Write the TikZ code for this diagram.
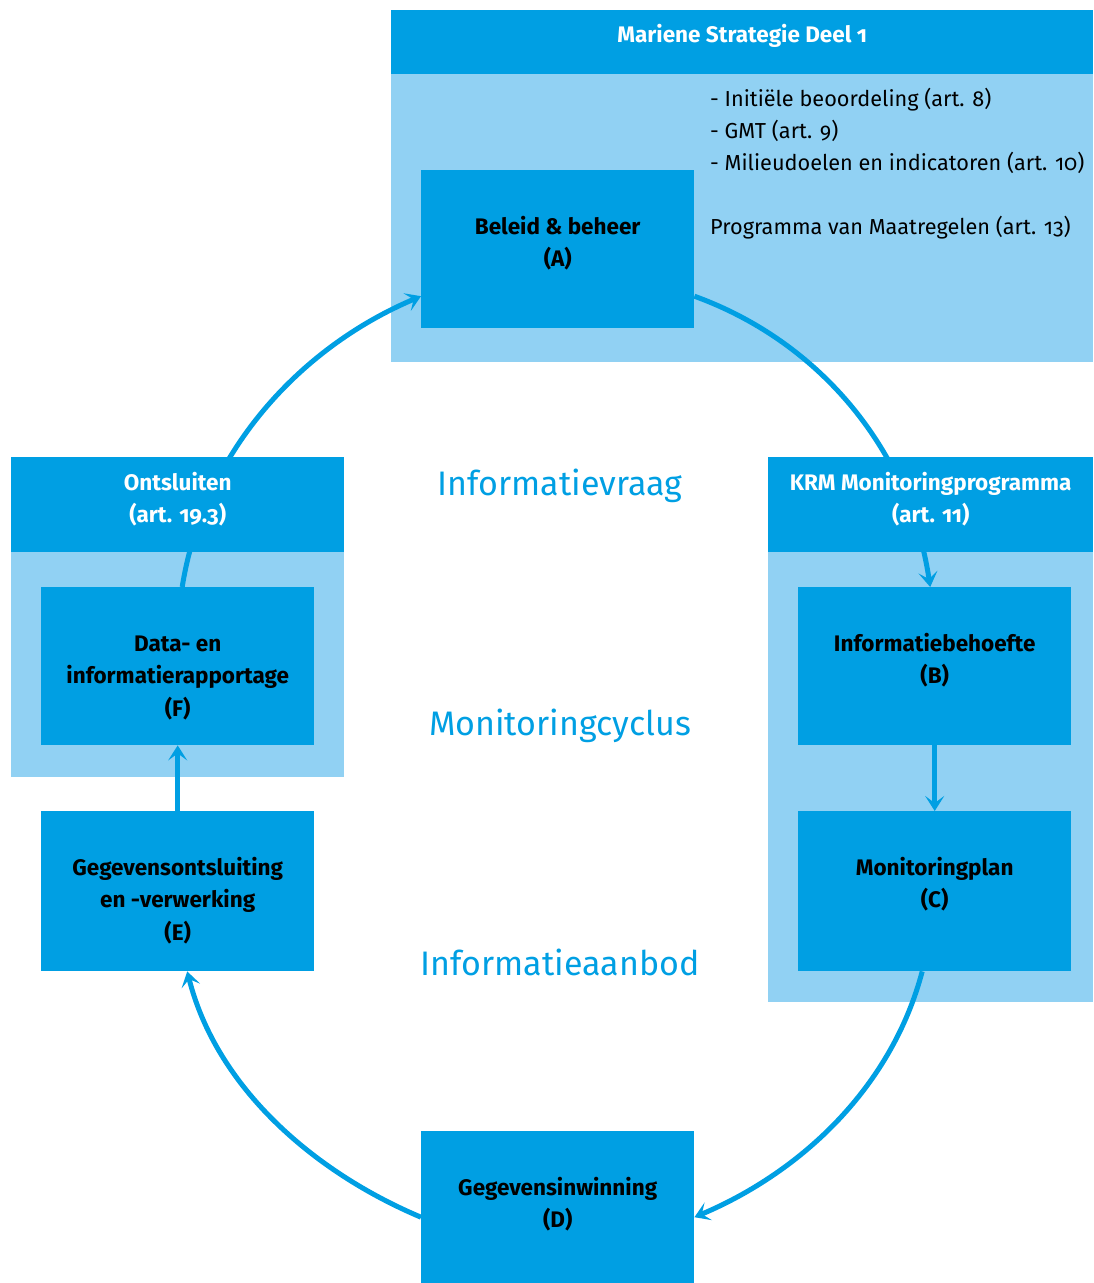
\documentclass[tikz,border=0pt]{standalone}
\usepackage{fontspec}
\setmainfont{Fira Sans}[Numbers=OldStyle]
\usetikzlibrary{arrows.meta}
\definecolor{dblue}{RGB}{0,159,227}
\definecolor{lblue}{RGB}{145,209,243}
\pgfdeclarelayer{bg}
\pgfdeclarelayer{arcs}
\pgfsetlayers{bg,arcs,main}
\begin{document}
\begin{tikzpicture}[x=1pt,y=-1pt,
  stagebox/.style={fill=dblue,draw=none,inner sep=0pt,minimum width=273pt,minimum height=158pt,anchor=north west},
  headbox/.style={fill=dblue,draw=none,inner sep=0pt,anchor=north west},
  lightbox/.style={fill=lblue,draw=none},
  boxtext/.style={anchor=north,align=center,inner sep=0pt,font=\fontsize{22.5}{32.5}\selectfont\bfseries},
  headtext/.style={boxtext,text=white},
  bodytext/.style={anchor=north west,align=left,inner sep=0pt,font=\fontsize{21.7}{32}\selectfont},
  bigtext/.style={anchor=base,inner sep=0pt,text=dblue,font=\fontsize{34}{40}\selectfont},
  flow/.style={draw=dblue,line width=5pt,-{Stealth[length=15pt,width=19pt,inset=7pt]}}
]
\useasboundingbox (0,0) rectangle (1093,1283);

% light group backgrounds
\begin{pgfonlayer}{bg}
  \fill[lightbox] (391,10) rectangle (1093,362);
  \fill[lightbox] (11,457) rectangle (344,777);
  \fill[lightbox] (768,457) rectangle (1093,1002);
\end{pgfonlayer}

% headers
\node[headbox,minimum width=702pt,minimum height=64pt] (hTop) at (391,10) {};
\node[headbox,minimum width=333pt,minimum height=95pt] (hLeft) at (11,457) {};
\node[headbox,minimum width=325pt,minimum height=95pt] (hRight) at (768,457) {};

% stage boxes
\node[stagebox] (A) at (421,170) {};
\node[stagebox] (B) at (798,587) {};
\node[stagebox,minimum height=160pt] (C) at (798,811) {};
\node[stagebox,minimum height=152pt] (D) at (421,1131) {};
\node[stagebox,minimum height=160pt] (E) at (41,811) {};
\node[stagebox] (F) at (41,587) {};

% header texts
\node[headtext] (tTop) at ([yshift=-9.5pt]hTop.north) {\strut Mariene Strategie Deel 1};
\node[headtext] (tLeft) at ([yshift=-10.25pt]hLeft.north) {\strut Ontsluiten\\(art. 19.3)};
\node[headtext] (tRight) at ([yshift=-10.25pt]hRight.north) {\strut KRM Monitoringprogramma\\(art. 11)};

% box texts
\node[boxtext] (tA) at ([yshift=-41.25pt]A.north) {\strut Beleid \& beheer\\(A)};
\node[boxtext] (tB) at ([yshift=-41.25pt]B.north) {\strut Informatiebehoefte\\(B)};
\node[boxtext] (tC) at ([yshift=-41.25pt]C.north) {\strut Monitoringplan\\(C)};
\node[boxtext] (tD) at ([yshift=-41.25pt]D.north) {\strut Gegevensinwinning\\(D)};
\node[boxtext] (tE) at ([yshift=-41.25pt]E.north) {\strut Gegevensontsluiting\\en -verwerking\\(E)};
\node[boxtext] (tF) at ([yshift=-41.25pt]F.north) {\strut Data- en\\informatierapportage\\(F)};

% body text
\node[bodytext] (list) at (710,83.6) {\strut - Initiële beoordeling (art. 8)\\- GMT (art. 9)\\- Milieudoelen en indicatoren (art. 10)\\[32pt]Programma van Maatregelen (art. 13)};

% centre labels
\node[bigtext] (q1) at (560,495) {Informatievraag};
\node[bigtext] (q2) at (560,735) {Monitoringcyclus};
\node[bigtext] (q3) at (560,975) {Informatieaanbod};

% cycle arcs
\begin{pgfonlayer}{arcs}
  \draw[flow] ([xshift=4.5pt]F.north) .. controls +(21,-133) and +(-123,52) .. ([yshift=-47pt]A.west);
  \draw[flow] ([yshift=-47pt]A.east) .. controls +(127,46) and +(-20,-135) .. ([xshift=-4.5pt]B.north);
  \draw[flow] ([xshift=-12.5pt]C.south) .. controls +(-30,114) and +(109,-46) .. ([yshift=-10pt]D.east);
  \draw[flow] ([yshift=-10pt]D.west) .. controls +(-109,-46) and +(29,115) .. ([xshift=9.5pt]E.south);
\end{pgfonlayer}

% straight arrows
\draw[flow] (B.south) -- (C.north);
\draw[flow] (E.north) -- (F.south);
\end{tikzpicture}
\end{document}
